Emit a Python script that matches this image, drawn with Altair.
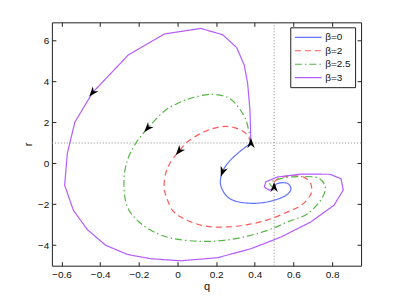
import altair as alt
import pandas as pd

series = ["β=0", "β=2", "β=2.5", "β=3"]
colors = ["#5f73ff", "#ff5a5a", "#55b545", "#b45cff"]
dashes = [[1, 0], [6, 4], [7, 3, 1.5, 3], [1, 0]]

x_ticks = [-0.6, -0.4, -0.2, 0, 0.2, 0.4, 0.6, 0.8]
y_ticks = [-4, -2, 0, 2, 4, 6]

# beta = 0
q_b0 = [0.38, 0.311, 0.259, 0.233, 0.222, 0.25, 0.293, 0.397, 0.5, 0.57, 0.587, 0.57, 0.518, 0.5]
r_b0 = [1.0, 0.49, 0.0, -0.41, -0.98, -1.55, -1.82, -1.95, -1.8, -1.5, -1.23, -0.98, -0.98, -1.12]

# beta = 2
q_b2 = [0.38, 0.36, 0.328, 0.276, 0.224, 0.138, 0.052, 0.008, -0.04, -0.061, -0.069, -0.055,
        -0.026, 0.017, 0.069, 0.155, 0.259, 0.363, 0.466, 0.57, 0.639, 0.69, 0.69, 0.656,
        0.57, 0.51, 0.492, 0.5]
r_b2 = [1.0, 1.4, 1.63, 1.79, 1.79, 1.55, 1.06, 0.6, 0.0, -0.49, -1.2, -1.7,
        -2.29, -2.62, -2.86, -3.08, -3.1, -2.99, -2.76, -2.37, -2.05, -1.5, -1.0, -0.68,
        -0.62, -0.82, -1.05, -1.15]

# beta = 2.5
q_b25 = [0.38, 0.355, 0.319, 0.268, 0.181, 0.069, 0.008, -0.061, -0.155, -0.216, -0.259, -0.277,
         -0.259, -0.199, -0.104, -0.018, 0.121, 0.241, 0.363, 0.466, 0.57, 0.674, 0.751, 0.765,
         0.734, 0.639, 0.535, 0.478, 0.49]
r_b25 = [1.0, 2.1, 2.7, 3.19, 3.38, 3.19, 2.97, 2.61, 1.72, 0.98, 0.16, -0.82,
         -2.13, -2.86, -3.43, -3.68, -3.81, -3.76, -3.55, -3.27, -2.86, -2.45, -1.64, -1.15,
         -0.74, -0.64, -0.74, -0.98, -1.15]

# beta = 3
q_b3 = [0.38, 0.375, 0.363, 0.345, 0.306, 0.233, 0.12, -0.069, -0.254, -0.44, -0.531, -0.57,
        -0.584, -0.539, -0.466, -0.372, -0.259, -0.138, 0.017, 0.207, 0.38, 0.535, 0.69, 0.81,
        0.858, 0.846, 0.79, 0.64, 0.518, 0.457, 0.449, 0.475, 0.5]
r_b3 = [1.0, 2.6, 3.92, 4.82, 5.67, 6.3, 6.6, 6.33, 5.31, 3.46, 2.02, 0.5,
        -1.06, -2.29, -3.24, -4.0, -4.45, -4.66, -4.76, -4.61, -4.17, -3.6, -2.86, -2.04,
        -1.3, -0.75, -0.53, -0.52, -0.66, -0.9, -1.15, -1.31, -1.18]

arrow_q = [0.38, -0.44, -0.155, 0.008, 0.233, 0.5]
arrow_r = [1.0, 3.46, 1.72, 0.6, -0.41, -1.15]
arrow_angle = [270, 130, 132, 129, 110, 270]

ref_q = [0.5]
ref_r = [1.0]

rows = []
for name, qs, rs in [("β=0", q_b0, r_b0), ("β=2", q_b2, r_b2), ("β=2.5", q_b25, r_b25)]:
    for i, (a, b) in enumerate(zip(qs, rs)):
        rows.append({"beta": name, "q": a, "r": b, "idx": i})
df_smooth = pd.DataFrame(rows)
df_purple = pd.DataFrame({"beta": "β=3", "q": q_b3, "r": r_b3, "idx": list(range(len(q_b3)))})
df_arrows = pd.DataFrame({"q": arrow_q, "r": arrow_r, "a": arrow_angle})

FONT = "Liberation Sans"
xscale = alt.Scale(domain=[-0.65, 0.95], nice=False, zero=False)
yscale = alt.Scale(domain=[-5, 6.9], nice=False, zero=False)


def tick_axis(orient, values):
    return alt.Axis(orient=orient, values=values, ticks=True, tickSize=4, tickColor="#222",
                    labels=False, domain=False, grid=False, title=None, offset=-4)


legend = alt.Legend(
    title=None, orient="none", legendX=239, legendY=5, direction="vertical",
    symbolType="M-1,0H4", symbolSize=114, symbolStrokeWidth=1.2,
    labelFont=FONT, labelFontSize=10, labelColor="#111", labelOffset=19,
    fillColor="white", strokeColor="#222", padding=4, rowPadding=2.5,
)

color = alt.Color("beta:N", scale=alt.Scale(domain=series, range=colors), legend=legend)
dash = alt.StrokeDash("beta:N", scale=alt.Scale(domain=series, range=dashes), legend=legend)

vrule = alt.Chart(pd.DataFrame({"v": ref_q})).mark_rule(
    color="#8a8a8a", strokeDash=[1, 2], strokeWidth=1
).encode(x=alt.X("v:Q", scale=xscale, axis=tick_axis("bottom", x_ticks)))

hrule = alt.Chart(pd.DataFrame({"v": ref_r})).mark_rule(
    color="#8a8a8a", strokeDash=[1, 2], strokeWidth=1
).encode(y=alt.Y("v:Q", scale=yscale, axis=tick_axis("left", y_ticks)))

smooth = alt.Chart(df_smooth).mark_line(interpolate="catmull-rom", strokeWidth=1.2).encode(
    x=alt.X("q:Q", scale=xscale, axis=alt.Axis(
        orient="bottom", values=x_ticks, format="~g", ticks=False, domain=False, grid=False,
        title="q", labelPadding=4, titlePadding=1, titleFontWeight="normal")),
    y=alt.Y("r:Q", scale=yscale, axis=alt.Axis(
        orient="left", values=y_ticks, format="~g", ticks=False, domain=False, grid=False,
        title="r", labelPadding=3, titlePadding=4, titleFontWeight="normal")),
    color=color,
    strokeDash=dash,
    order="idx:Q",
)

purple = alt.Chart(df_purple).mark_line(strokeWidth=1.2).encode(
    x=alt.X("q:Q", scale=xscale, axis=None),
    y=alt.Y("r:Q", scale=yscale, axis=None),
    color=color,
    strokeDash=dash,
    order="idx:Q",
)

arrows = alt.Chart(df_arrows).mark_point(
    shape="M1,0L-1,-0.75L-0.4,0L-1,0.75Z", filled=True, size=100, color="black", opacity=1,
    strokeWidth=0
).encode(
    x=alt.X("q:Q", scale=xscale, axis=tick_axis("top", x_ticks)),
    y=alt.Y("r:Q", scale=yscale, axis=tick_axis("right", y_ticks)),
    angle=alt.Angle("a:Q", scale=None),
)

chart = alt.layer(vrule, hrule, smooth, purple, arrows).resolve_axis(
    x="independent", y="independent"
).properties(
    width=310, height=244,
    autosize=alt.AutoSizeParams(type="none"),
    padding={"left": 44, "top": 14, "right": 30, "bottom": 26},
    background="white",
).configure_view(
    stroke="#222", strokeWidth=1
).configure_axis(
    labelFont=FONT, labelFontSize=10, labelColor="#111",
    titleFont=FONT, titleFontSize=11, titleFontWeight="normal", titleColor="#111",
)

chart.save("out.html", embed_options={"renderer": "svg", "actions": False})
